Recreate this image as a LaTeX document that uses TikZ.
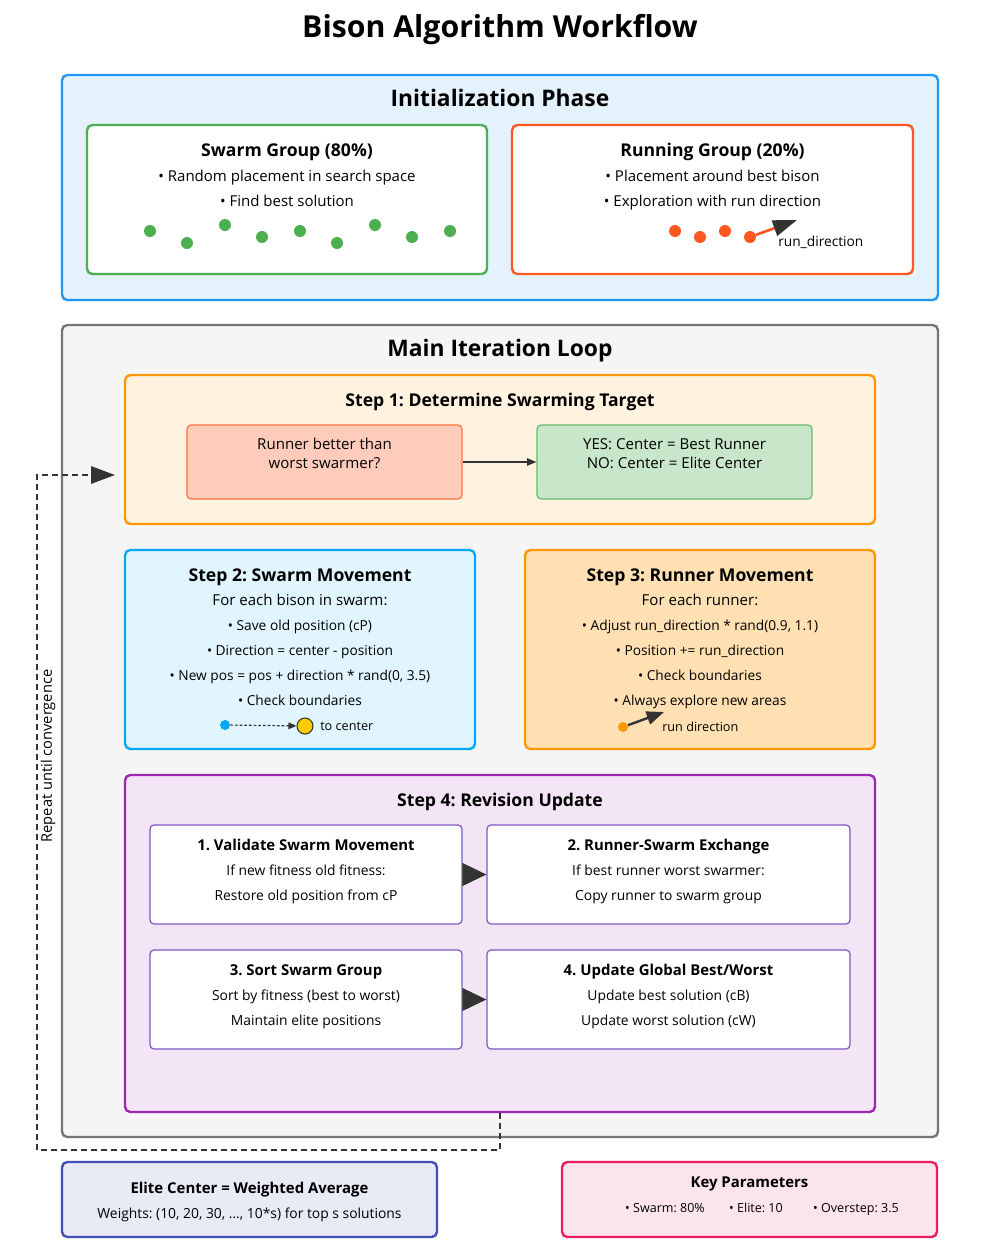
\documentclass[tikz,border=0pt]{standalone}
\usepackage{fontspec}
\setmainfont{Open Sans}
\usetikzlibrary{arrows.meta}
\definecolor{initF}{HTML}{E3F2FD}\definecolor{initS}{HTML}{2196F3}
\definecolor{grn}{HTML}{4CAF50}\definecolor{org}{HTML}{FF5722}
\definecolor{mainF}{HTML}{F5F5F5}\definecolor{mainS}{HTML}{757575}
\definecolor{s1F}{HTML}{FFF3E0}\definecolor{s1S}{HTML}{FF9800}
\definecolor{redF}{HTML}{FFCCBC}\definecolor{redS}{HTML}{FF7043}
\definecolor{gF}{HTML}{C8E6C9}\definecolor{gS}{HTML}{66BB6A}
\definecolor{s2F}{HTML}{E1F5FE}\definecolor{s2S}{HTML}{03A9F4}
\definecolor{s3F}{HTML}{FFE0B2}
\definecolor{s4F}{HTML}{F3E5F5}\definecolor{s4S}{HTML}{9C27B0}
\definecolor{subS}{HTML}{7E57C2}
\definecolor{elF}{HTML}{E8EAF6}\definecolor{elS}{HTML}{3F51B5}
\definecolor{kpF}{HTML}{FCE4EC}\definecolor{kpS}{HTML}{E91E63}
\definecolor{dk}{HTML}{333333}\definecolor{yel}{HTML}{FFCC00}
\definecolor{dotO}{HTML}{FF9800}
\begin{document}
\frenchspacing
\begin{tikzpicture}[x=0.75pt,y=-0.75pt,
  box/.style={draw, rounded corners=4pt, line width=1.8pt, inner sep=0pt},
  sbox/.style={draw, rounded corners=3pt, line width=0.9pt, inner sep=0pt},
  tx/.style={inner sep=0pt, anchor=base},
  ttl/.style={tx, font=\fontsize{22.7pt}{26pt}\selectfont\bfseries, yshift=-8.2pt},
  sec/.style={tx, font=\fontsize{17.1pt}{20pt}\selectfont\bfseries, yshift=-6.2pt},
  hd/.style={tx, font=\fontsize{13.2pt}{15pt}\selectfont\bfseries, yshift=-4.75pt},
  bd/.style={tx, font=\fontsize{11.25pt}{14pt}\selectfont, yshift=-4.05pt},
  md/.style={tx, font=\fontsize{11.3pt}{13pt}\selectfont, yshift=-4.05pt},
  sm/.style={tx, font=\fontsize{10.3pt}{12pt}\selectfont, yshift=-3.7pt},
  subhd/.style={tx, font=\fontsize{11.2pt}{13pt}\selectfont\bfseries, yshift=-4pt},
  subbd/.style={tx, font=\fontsize{10.4pt}{12pt}\selectfont, yshift=-3.75pt},
  tiny/.style={tx, font=\fontsize{9.5pt}{11pt}\selectfont, yshift=-3.4pt},
  kp/.style={tx, font=\fontsize{9.4pt}{11pt}\selectfont, yshift=-3.4pt},
  gdot/.style={circle, fill=grn, inner sep=0pt, minimum size=9pt},
  odot/.style={circle, fill=org, inner sep=0pt, minimum size=9pt},
]
\useasboundingbox (0,0) rectangle (1000,1250);
\fill[white] (0,0) rectangle (1000,1250);

\node[ttl] (title) at (500,27) {Bison Algorithm Workflow};

% Initialization
\node[box, draw=initS, fill=initF, minimum width=657pt, minimum height=168.75pt] (init) at (500,187.5) {};
\node[sec] (initT) at (500,98) {Initialization Phase};
\node[box, draw=grn, fill=white, minimum width=300pt, minimum height=111.75pt] (swarm) at (287,199.5) {};
\node[hd] (swarmT) at (287,150) {Swarm Group (80\%)};
\node[bd] (swarm1) at (287,176) {• Random placement in search space};
\node[bd] (swarm2) at (287,201) {• Find best solution};
\foreach \x/\y [count=\i] in {150/231,187/243,225/225,262/237,300/231,337/243,375/225,412/237,450/231}
  \node[gdot] (g\i) at (\x,\y) {};
\node[box, draw=org, fill=white, minimum width=300.75pt, minimum height=111.75pt] (run) at (712.5,199.5) {};
\node[hd] (runT) at (712.5,150) {Running Group (20\%)};
\node[bd] (run1) at (712.5,176) {• Placement around best bison};
\node[bd] (run2) at (712.5,201) {• Exploration with run direction};
\foreach \x/\y [count=\i] in {675/231,700/237,725/231,750/237}
  \node[odot] (o\i) at (\x,\y) {};
\coordinate (rdEnd) at (797,220);
\draw[org, line width=2pt, -{Triangle[length=18pt,width=12pt,color=dk]}] (o4) -- (rdEnd);
\node[sm, anchor=base west] (rdT) at (778,242) {run\_direction};

% Main loop
\node[box, draw=mainS, fill=mainF, minimum width=657pt, minimum height=609pt] (main) at (500,731) {};
\node[sec] (mainT) at (500,348) {Main Iteration Loop};

% Step 1
\node[box, draw=s1S, fill=s1F, minimum width=562.5pt, minimum height=111.75pt] (step1) at (500,449.5) {};
\node[hd] (step1T) at (500,400) {Step 1: Determine Swarming Target};
\node[sbox, draw=redS, fill=redF, minimum width=206.25pt, minimum height=55.5pt] (q) at (324.5,462) {};
\node[md] (qT1) at (324.5,444) {Runner better than};
\node[md] (qT2) at (324.5,463) {worst swarmer?};
\node[sbox, draw=gS, fill=gF, minimum width=206.25pt, minimum height=55.5pt] (ans) at (674.5,462) {};
\node[md] (ansT1) at (674.5,444) {YES: Center = Best Runner};
\node[md] (ansT2) at (674.5,463) {NO: Center = Elite Center};
\draw[dk, line width=1pt, -{Triangle[length=7pt,width=5.5pt]}] (q.east) -- (ans.west);

% Step 2
\node[box, draw=s2S, fill=s2F, minimum width=262.5pt, minimum height=149.25pt] (step2) at (300,649.5) {};
\node[hd] (step2T) at (300,575) {Step 2: Swarm Movement};
\node[md] (s2a) at (300,600) {For each bison in swarm:};
\node[sm] (s2b) at (300,626) {• Save old position (cP)};
\node[sm] (s2c) at (300,651) {• Direction = center - position};
\node[sm] (s2d) at (300,676) {• New pos = pos + direction * rand(0, 3.5)};
\node[sm] (s2e) at (300,701) {• Check boundaries};
\node[circle, fill=s2S, inner sep=0pt, minimum size=7.5pt] (bdot) at (225,725) {};
\node[circle, fill=yel, draw=dk, line width=0.8pt, inner sep=0pt, minimum size=12pt] (ydot) at (305,726) {};
\draw[dk, line width=0.9pt, dash pattern=on 2pt off 1.5pt, -{Triangle[length=6pt,width=5pt]}] (bdot) -- (ydot);
\node[tiny, anchor=base west] (tc) at (320,726) {to center};

% Step 3
\node[box, draw=s1S, fill=s3F, minimum width=262.5pt, minimum height=149.25pt] (step3) at (700,649.5) {};
\node[hd] (step3T) at (700,575) {Step 3: Runner Movement};
\node[md] (s3a) at (700,600) {For each runner:};
\node[sm] (s3b) at (700,626) {• Adjust run\_direction * rand(0.9, 1.1)};
\node[sm] (s3c) at (700,651) {• Position += run\_direction};
\node[sm] (s3d) at (700,676) {• Check boundaries};
\node[sm] (s3e) at (700,701) {• Always explore new areas};
\node[circle, fill=dotO, inner sep=0pt, minimum size=7.5pt] (rdot) at (623,727) {};
\coordinate (rArr) at (664,712);
\draw[dk, line width=1.8pt, -{Triangle[length=13pt,width=10pt]}] (rdot) -- (rArr);
\node[tiny, anchor=base west] (rdir) at (662,727) {run direction};

% Step 4
\node[box, draw=s4S, fill=s4F, minimum width=562.5pt, minimum height=252.75pt] (step4) at (500,943.5) {};
\node[hd] (step4T) at (500,800) {Step 4: Revision Update};
\node[sbox, draw=subS, fill=white, minimum width=234pt, minimum height=74.25pt] (sub1) at (306,874.5) {};
\node[subhd] (sub1T) at (306,845) {1. Validate Swarm Movement};
\node[subbd] (sub1a) at (306,870) {If new fitness old fitness:};
\node[subbd] (sub1b) at (306,895) {Restore old position from cP};
\node[sbox, draw=subS, fill=white, minimum width=272.25pt, minimum height=74.25pt] (sub2) at (668.5,874.5) {};
\node[subhd] (sub2T) at (668.5,845) {2. Runner-Swarm Exchange};
\node[subbd] (sub2a) at (668.5,870) {If best runner worst swarmer:};
\node[subbd] (sub2b) at (668.5,895) {Copy runner to swarm group};
\node[sbox, draw=subS, fill=white, minimum width=234pt, minimum height=74.25pt] (sub3) at (306,999.5) {};
\node[subhd] (sub3T) at (306,970) {3. Sort Swarm Group};
\node[subbd] (sub3a) at (306,995) {Sort by fitness (best to worst)};
\node[subbd] (sub3b) at (306,1020) {Maintain elite positions};
\node[sbox, draw=subS, fill=white, minimum width=272.25pt, minimum height=74.25pt] (sub4) at (668.5,999.5) {};
\node[subhd] (sub4T) at (668.5,970) {4. Update Global Best/Worst};
\node[subbd] (sub4a) at (668.5,995) {Update best solution (cB)};
\node[subbd] (sub4b) at (668.5,1020) {Update worst solution (cW)};
\draw[s4S, line width=1.5pt, -{Triangle[length=18pt,width=17pt,color=dk]}] (sub1.east) -- (sub2.west);
\draw[s4S, line width=1.5pt, -{Triangle[length=18pt,width=17pt,color=dk]}] (sub3.east) -- (sub4.west);

% Loop back
\coordinate (loopEnd) at (115,475);
\coordinate (loopCorner) at (37,1150);
\draw[dk, line width=1.5pt, dash pattern=on 4.5pt off 3pt, -{Triangle[length=18pt,width=13pt]}]
  (step4.south) |- (loopCorner) |- (loopEnd);
\node[rotate=90, font=\fontsize{11pt}{13pt}\selectfont, inner sep=0pt] (rep) at (48,756) {Repeat until convergence};

% Bottom boxes
\node[box, draw=elS, fill=elF, minimum width=281.25pt, minimum height=56.25pt] (elite) at (249.5,1199.5) {};
\node[subhd] (eliteT) at (249.5,1188) {Elite Center = Weighted Average};
\node[subbd] (eliteB) at (249.5,1213) {Weights: (10, 20, 30, ..., 10*s) for top s solutions};
\node[box, draw=kpS, fill=kpF, minimum width=281.25pt, minimum height=56.25pt] (key) at (749.5,1199.5) {};
\node[subhd] (keyT) at (749.5,1182) {Key Parameters};
\node[kp] (k1) at (665,1208) {• Swarm: 80\%};
\node[kp] (k2) at (756,1208) {• Elite: 10};
\node[kp] (k3) at (856,1208) {• Overstep: 3.5};
\end{tikzpicture}
\end{document}
